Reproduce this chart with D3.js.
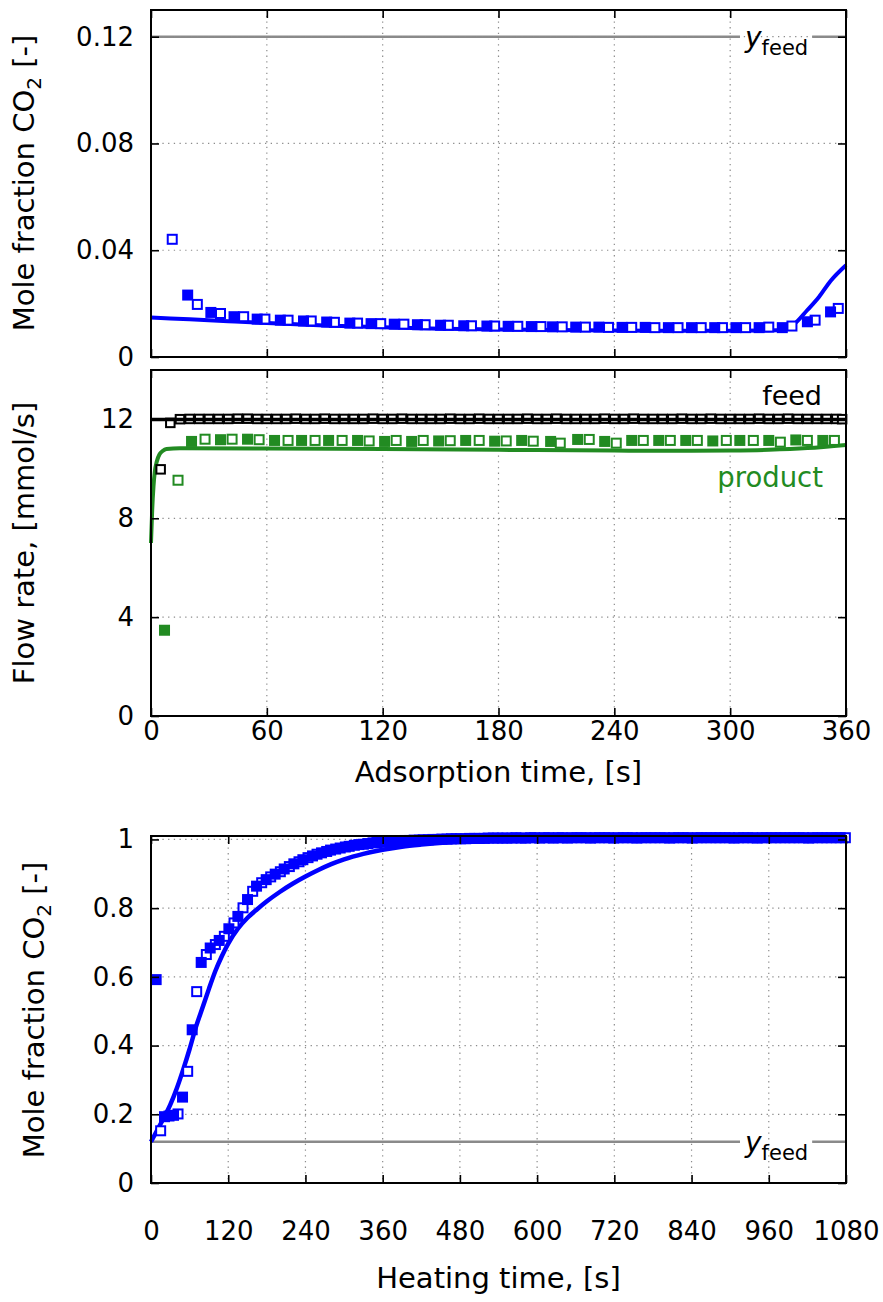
<!DOCTYPE html>
<html>
<head>
<meta charset="utf-8">
<script src="https://cdn.jsdelivr.net/npm/d3@7"></script>
<style>
  body { margin: 0; background: #fff; }
  svg { display: block; font-family: "DejaVu Sans", sans-serif; }
</style>
</head>
<body>
<svg id="chart" width="883" height="1302"></svg>
<script>
// ---- data: adsorption step, CO2 mole fraction ----
const adsModelT = [0, 20, 40, 60, 90, 120, 150, 180, 210, 240, 270, 300, 320, 327, 333, 340, 346, 352, 360];
const adsModelY = [0.0148, 0.0141, 0.0134, 0.0127, 0.0118, 0.0111, 0.0106, 0.0103, 0.0101, 0.0099, 0.0098, 0.0098, 0.0099, 0.0101, 0.0122, 0.0176, 0.0225, 0.0285, 0.0344];
const adsRun1T = [19, 31, 43, 55, 67, 79, 91, 103, 114, 126, 138, 150, 162, 174, 185, 197, 208, 220, 232, 244, 256, 268, 280, 292, 303, 315, 327, 340, 352];
const adsRun1Y = [0.0232, 0.0167, 0.0151, 0.0142, 0.0138, 0.0135, 0.0131, 0.0127, 0.0125, 0.0123, 0.0121, 0.0119, 0.0117, 0.0116, 0.0115, 0.0114, 0.0113, 0.0112, 0.0112, 0.0111, 0.0111, 0.0110, 0.0110, 0.0110, 0.0110, 0.0110, 0.0110, 0.0132, 0.0169];
const adsRun2T = [11, 24, 36, 48, 59, 71, 83, 95, 107, 119, 131, 142, 154, 166, 178, 190, 202, 213, 225, 237, 249, 261, 273, 285, 296, 308, 320, 332, 344, 356];
const adsRun2Y = [0.0441, 0.0197, 0.0163, 0.0151, 0.0142, 0.0138, 0.0135, 0.0130, 0.0127, 0.0125, 0.0123, 0.0121, 0.0119, 0.0117, 0.0116, 0.0115, 0.0114, 0.0113, 0.0112, 0.0111, 0.0111, 0.0110, 0.0110, 0.0110, 0.0110, 0.0110, 0.0112, 0.0116, 0.0138, 0.0182];
const yFeed = 0.12;

// ---- data: adsorption step, flow rates ----
const feedModelT = [0, 360];
const feedModelY = [12.0, 12.0];
const feedRun1T = [5, 15, 25, 35, 45, 55, 65, 75, 85, 95, 105, 115, 125, 135, 145, 155, 165, 175, 185, 195, 205, 215, 225, 235, 245, 255, 265, 275, 285, 295, 305, 315, 325, 335, 345, 355];
const feedRun1Y = [9.98, 12.01, 12.02, 12.02, 12.03, 12.02, 12.02, 12.03, 12.02, 12.02, 12.02, 12.03, 12.02, 12.02, 12.02, 12.03, 12.02, 12.02, 12.02, 12.03, 12.02, 12.02, 12.02, 12.03, 12.02, 12.02, 12.02, 12.03, 12.02, 12.02, 12.02, 12.03, 12.02, 12.02, 12.02, 12.02];
const feedRun2T = [10, 20, 30, 40, 50, 60, 70, 80, 90, 100, 110, 120, 130, 140, 150, 160, 170, 180, 190, 200, 210, 220, 230, 240, 250, 260, 270, 280, 290, 300, 310, 320, 330, 340, 350, 358];
const feedRun2Y = [11.86, 12.02, 12.02, 12.02, 12.03, 12.02, 12.02, 12.02, 12.03, 12.02, 12.02, 12.02, 12.03, 12.02, 12.02, 12.02, 12.03, 12.02, 12.02, 12.02, 12.03, 12.02, 12.02, 12.02, 12.03, 12.02, 12.02, 12.02, 12.03, 12.02, 12.02, 12.02, 12.03, 12.02, 12.02, 12.01];
const prodModelT = [0, 0.6, 1.3, 2, 3, 4.5, 6, 8, 15, 60, 120, 180, 240, 280, 300, 320, 340, 360];
const prodModelY = [7.0, 8.3, 9.3, 9.9, 10.3, 10.6, 10.72, 10.8, 10.83, 10.82, 10.8, 10.77, 10.74, 10.73, 10.74, 10.77, 10.84, 10.97];
const prodRun1T = [7, 21, 36, 50, 64, 78, 92, 107, 121, 135, 149, 163, 178, 192, 207, 221, 235, 249, 263, 277, 291, 305, 320, 334, 348];
const prodRun1Y = [3.47, 11.11, 11.18, 11.2, 11.15, 11.15, 11.15, 11.15, 11.11, 11.11, 11.13, 11.15, 11.12, 11.15, 11.11, 11.19, 11.11, 11.15, 11.15, 11.15, 11.13, 11.15, 11.15, 11.17, 11.15];
const prodRun2T = [14, 28, 42, 56, 71, 85, 99, 113, 127, 141, 155, 170, 184, 198, 212, 227, 241, 255, 269, 283, 298, 312, 326, 340, 354];
const prodRun2Y = [9.54, 11.2, 11.2, 11.18, 11.15, 11.15, 11.15, 11.13, 11.15, 11.15, 11.14, 11.15, 11.13, 11.12, 11.04, 11.19, 11.04, 11.15, 11.15, 11.15, 11.15, 11.15, 11.08, 11.15, 11.15];

// ---- data: heating step, CO2 mole fraction ----
const heatModelT = [0, 10, 20, 30, 40, 50, 60, 70, 80, 90, 100, 110, 120, 135, 150, 165, 180, 200, 220, 240, 260, 280, 300, 330, 360, 390, 420, 480, 540, 600, 720, 1080];
const heatModelY = [0.12, 0.155, 0.19, 0.228, 0.275, 0.33, 0.39, 0.455, 0.51, 0.565, 0.617, 0.66, 0.697, 0.74, 0.772, 0.797, 0.82, 0.847, 0.871, 0.892, 0.911, 0.928, 0.942, 0.958, 0.97, 0.979, 0.985, 0.993, 0.997, 0.999, 1.0, 1.0];
const heatRun1T = [8, 21, 35, 49, 64, 78, 92, 106, 121, 135, 150, 164, 179, 193, 207, 222, 236, 251, 265, 279, 294, 308, 323, 337, 351, 366, 380, 395, 409, 423, 438, 452, 467, 481, 495, 510, 524, 539, 553, 567, 582, 596, 611, 625, 639, 654, 668, 683, 697, 711, 726, 740, 755, 769, 783, 798, 812, 827, 841, 855, 870, 884, 899, 913, 927, 942, 956, 971, 985, 999, 1014, 1028, 1043, 1057, 1071];
const heatRun1Y = [0.592, 0.193, 0.197, 0.25, 0.446, 0.642, 0.684, 0.706, 0.74, 0.776, 0.825, 0.864, 0.883, 0.899, 0.914, 0.929, 0.941, 0.952, 0.961, 0.969, 0.975, 0.980, 0.985, 0.988, 0.991, 0.993, 0.995, 0.997, 0.998, 0.999, 1.0, 1.001, 1.002, 1.002, 1.003, 1.003, 1.004, 1.004, 1.004, 1.005, 1.004, 1.005, 1.005, 1.004, 1.005, 1.005, 1.005, 1.004, 1.005, 1.005, 1.005, 1.005, 1.004, 1.005, 1.005, 1.005, 1.005, 1.005, 1.004, 1.005, 1.005, 1.005, 1.005, 1.005, 1.005, 1.004, 1.005, 1.005, 1.005, 1.005, 1.005, 1.005, 1.005, 1.005, 1.005];
const heatRun2T = [15, 28, 42, 57, 71, 86, 100, 114, 129, 143, 158, 172, 186, 201, 215, 230, 244, 258, 273, 287, 302, 316, 330, 345, 359, 374, 388, 402, 417, 431, 446, 460, 474, 489, 503, 518, 532, 546, 561, 575, 590, 604, 618, 633, 647, 662, 676, 690, 705, 719, 734, 748, 762, 777, 791, 806, 820, 834, 849, 863, 878, 892, 906, 921, 935, 950, 964, 978, 993, 1007, 1022, 1036, 1050, 1065, 1079];
const heatRun2Y = [0.152, 0.195, 0.201, 0.325, 0.557, 0.665, 0.694, 0.718, 0.757, 0.801, 0.849, 0.874, 0.891, 0.906, 0.921, 0.935, 0.947, 0.957, 0.965, 0.972, 0.978, 0.983, 0.986, 0.990, 0.992, 0.994, 0.996, 0.997, 0.998, 0.999, 1.0, 1.001, 1.002, 1.002, 1.003, 1.003, 1.004, 1.004, 1.004, 1.004, 1.005, 1.004, 1.005, 1.005, 1.004, 1.005, 1.005, 1.005, 1.005, 1.004, 1.005, 1.005, 1.005, 1.005, 1.005, 1.004, 1.005, 1.005, 1.005, 1.005, 1.005, 1.005, 1.004, 1.005, 1.005, 1.005, 1.005, 1.005, 1.005, 1.005, 1.004, 1.005, 1.005, 1.005, 1.005];

// ---- ticks ----
const adsTicksX = [0, 60, 120, 180, 240, 300, 360];
const heatTicksX = [0, 120, 240, 360, 480, 600, 720, 840, 960, 1080];
const co2TicksTop = [0, 0.04, 0.08, 0.12];
const co2LabelsTop = ["0", "0.04", "0.08", "0.12"];
const flowTicks = [0, 4, 8, 12];
const flowLabels = ["0", "4", "8", "12"];
const co2TicksBot = [0, 0.2, 0.4, 0.6, 0.8, 1];
const co2LabelsBot = ["0", "0.2", "0.4", "0.6", "0.8", "1"];

const BLUE = "#0000ff", GREEN = "#228b22", BLACK = "#000", GREY = "#8a8a8a";

const svg = d3.select("#chart");
const left = 151, right = 846;

const zip = (t, v) => t.map((d, i) => ({ t: d, v: v[i] }));

// one panel = frame, grid, ticks, labels
function makePanel(opt) {
    const x = d3.scaleLinear().domain(opt.xDomain).range([left, right]);
    const y = d3.scaleLinear().domain(opt.yDomain).range([opt.bottom, opt.top]);
    const g = svg.append("g");
    const layers = {
        feed: g.append("g"),
        mask: g.append("g"),
        grid: g.append("g"),
        data: g.append("g"),
        frame: g.append("g"),
        text: g.append("g")
    };

    // dotted grid
    layers.grid.selectAll(".gx")
        .data(opt.xTicks.filter(d => d !== opt.xDomain[0] && d !== opt.xDomain[1]))
        .enter().append("line")
        .attr("x1", d => x(d)).attr("x2", d => x(d))
        .attr("y1", opt.top).attr("y2", opt.bottom)
        .attr("stroke", "#8c8c8c").attr("stroke-width", 1.2)
        .attr("stroke-dasharray", "1.3,4.4");
    layers.grid.selectAll(".gy")
        .data(opt.yTicks.filter(d => d !== opt.yDomain[0]))
        .enter().append("line")
        .attr("x1", left).attr("x2", right)
        .attr("y1", d => y(d)).attr("y2", d => y(d))
        .attr("stroke", "#8c8c8c").attr("stroke-width", 1.2)
        .attr("stroke-dasharray", "1.3,4.4");

    // inward ticks on all four sides
    const fmtY = d => opt.yLabels[opt.yTicks.indexOf(d)];
    layers.frame.append("g").attr("transform", `translate(${left},0)`)
        .call(d3.axisLeft(y).tickValues(opt.yTicks).tickSize(-8).tickPadding(17).tickFormat(fmtY));
    layers.frame.append("g").attr("transform", `translate(${right},0)`)
        .call(d3.axisRight(y).tickValues(opt.yTicks).tickSize(-8).tickFormat(""));
    layers.frame.append("g").attr("transform", `translate(0,${opt.top})`)
        .call(d3.axisTop(x).tickValues(opt.xTicks).tickSize(-8).tickFormat(""));
    layers.frame.append("g").attr("transform", `translate(0,${opt.bottom})`)
        .call(d3.axisBottom(x).tickValues(opt.xTicks).tickSize(-8).tickPadding(opt.xPad || 6)
            .tickFormat(opt.showX ? d3.format("d") : ""));
    layers.frame.selectAll(".domain").remove();
    layers.frame.selectAll(".tick line").attr("stroke", "#000").attr("stroke-width", 1.6);
    layers.frame.selectAll("text").attr("font-size", 26).attr("fill", "#000")
        .attr("font-family", "DejaVu Sans, sans-serif");
    layers.frame.append("rect")
        .attr("x", left).attr("y", opt.top)
        .attr("width", right - left).attr("height", opt.bottom - opt.top)
        .attr("fill", "none").attr("stroke", "#000").attr("stroke-width", 2);

    return { x, y, g, layers };
}

function drawLine(p, t, v, color, w) {
    const line = d3.line().x(d => p.x(d.t)).y(d => p.y(d.v)).curve(d3.curveMonotoneX);
    p.layers.data.append("path")
        .datum(zip(t, v))
        .attr("d", line)
        .attr("fill", "none")
        .attr("stroke", color)
        .attr("stroke-width", w)
        .attr("stroke-linejoin", "round");
}

function drawSquares(p, t, v, color, open, size) {
    const outer = size || 11;
    const s = open ? outer - 2 : outer;
    p.layers.data.append("g").selectAll("rect")
        .data(zip(t, v))
        .enter().append("rect")
        .attr("x", d => p.x(d.t) - s / 2)
        .attr("y", d => p.y(d.v) - s / 2)
        .attr("width", s).attr("height", s)
        .attr("fill", open ? "#fff" : color)
        .attr("stroke", open ? color : "none")
        .attr("stroke-width", open ? 2 : 0);
}

function drawFeedRef(p, xText) {
    const yy = p.y(yFeed);
    p.layers.feed.append("line")
        .attr("x1", left).attr("x2", right)
        .attr("y1", yy).attr("y2", yy)
        .attr("stroke", GREY).attr("stroke-width", 2.6);
    const t = p.layers.text.append("text")
        .attr("x", xText).attr("y", yy + 10)
        .attr("fill", "#000");
    t.append("tspan").attr("font-style", "italic").attr("font-size", 28).text("y");
    t.append("tspan").attr("font-size", 21).attr("dy", 8).text("feed");
    const bb = t.node().getBBox();
    p.layers.mask.append("rect")
        .attr("x", bb.x - 4).attr("y", yy - 3)
        .attr("width", bb.width + 8).attr("height", 6)
        .attr("fill", "#fff");
}

function yTitle(x, y, pre, sub, post) {
    const t = svg.append("text")
        .attr("transform", `translate(${x},${y}) rotate(-90)`)
        .attr("text-anchor", "middle")
        .attr("font-size", 29);
    t.append("tspan").text(pre);
    if (sub) {
        t.append("tspan").attr("font-size", 20).attr("dy", 7).text(sub);
        t.append("tspan").attr("dy", -7).text(post);
    }
}

// ---- panel 1: CO2 during adsorption ----
const p1 = makePanel({ top: 10, bottom: 357, xDomain: [0, 360], yDomain: [0, 0.13],
    xTicks: adsTicksX, yTicks: co2TicksTop, yLabels: co2LabelsTop, showX: false });
drawFeedRef(p1, 745);
drawLine(p1, adsModelT, adsModelY, BLUE, 4);
drawSquares(p1, adsRun2T, adsRun2Y, BLUE, true);
drawSquares(p1, adsRun1T, adsRun1Y, BLUE, false);
yTitle(34, 183, "Mole fraction CO", "2", " [-]");

// ---- panel 2: flow rates ----
const p2 = makePanel({ top: 370, bottom: 716, xDomain: [0, 360], yDomain: [0, 14],
    xTicks: adsTicksX, yTicks: flowTicks, yLabels: flowLabels, showX: true, xPad: 6 });
drawLine(p2, prodModelT, prodModelY, GREEN, 4);
drawSquares(p2, feedRun1T, feedRun1Y, BLACK, true, 10.5);
drawSquares(p2, feedRun2T, feedRun2Y, BLACK, true, 10.5);
drawLine(p2, feedModelT, feedModelY, BLACK, 3.5);
drawSquares(p2, prodRun2T, prodRun2Y, GREEN, true);
drawSquares(p2, prodRun1T, prodRun1Y, GREEN, false);
p2.layers.text.append("text").attr("x", 822).attr("y", 405)
    .attr("text-anchor", "end").attr("font-size", 27).text("feed");
p2.layers.text.append("text").attr("x", 823).attr("y", 487)
    .attr("text-anchor", "end").attr("font-size", 27.5).attr("fill", GREEN).text("product");
yTitle(34, 543, "Flow rate, [mmol/s]");
svg.append("text").attr("x", (left + right) / 2).attr("y", 782)
    .attr("text-anchor", "middle").attr("font-size", 29).text("Adsorption time, [s]");

// ---- panel 3: CO2 during heating ----
const p3 = makePanel({ top: 836, bottom: 1183, xDomain: [0, 1080], yDomain: [0, 1.01],
    xTicks: heatTicksX, yTicks: co2TicksBot, yLabels: co2LabelsBot, showX: true, xPad: 39 });
drawFeedRef(p3, 745);
drawLine(p3, heatModelT, heatModelY, BLUE, 4.5);
drawSquares(p3, heatRun2T, heatRun2Y, BLUE, true);
drawSquares(p3, heatRun1T, heatRun1Y, BLUE, false);
yTitle(44, 1010, "Mole fraction CO", "2", " [-]");
svg.append("text").attr("x", (left + right) / 2).attr("y", 1288)
    .attr("text-anchor", "middle").attr("font-size", 29).text("Heating time, [s]");
</script>
</body>
</html>
